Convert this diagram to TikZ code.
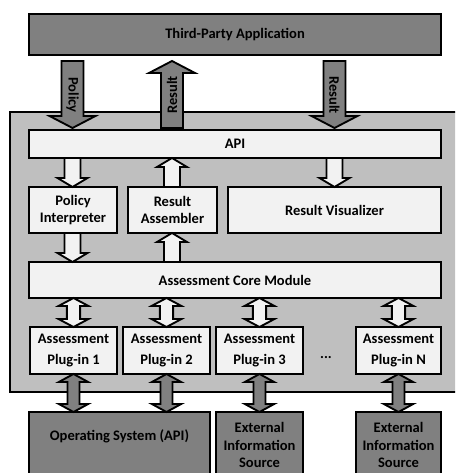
\documentclass[tikz,border=0pt]{standalone}
\usepackage{fontspec}
\setmainfont{Carlito}
\usetikzlibrary{calc}
\definecolor{dkgray}{HTML}{808080}
\definecolor{mdgray}{HTML}{BFBFBF}
\definecolor{ltgray}{HTML}{F2F2F2}
% single block arrow: style, column coordinate, from, to, shaft half, head half, head length
\newcommand\varrow[7]{%
  \draw[#1] let \p1=(#3), \p2=(#4), \p3=(#2), \n1={sign(\y1-\y2)} in
   (\x3-#5,\y1) -- (\x3-#5,{\y2+\n1*#7}) -- (\x3-#6,{\y2+\n1*#7}) -- (\x3,\y2)
   -- (\x3+#6,{\y2+\n1*#7}) -- (\x3+#5,{\y2+\n1*#7}) -- (\x3+#5,\y1) -- cycle;}
% double block arrow
\newcommand\darrow[7]{%
  \draw[#1] let \p1=(#3), \p2=(#4), \p3=(#2), \n1={sign(\y1-\y2)} in
   (\x3,\y1) -- (\x3+#6,{\y1-\n1*#7}) -- (\x3+#5,{\y1-\n1*#7}) -- (\x3+#5,{\y2+\n1*#7})
   -- (\x3+#6,{\y2+\n1*#7}) -- (\x3,\y2) -- (\x3-#6,{\y2+\n1*#7}) -- (\x3-#5,{\y2+\n1*#7})
   -- (\x3-#5,{\y1-\n1*#7}) -- (\x3-#6,{\y1-\n1*#7}) -- cycle;}
\tikzset{
  every node/.style={font=\bfseries\fontsize{10.9}{13}\selectfont, text=black},
  box/.style={draw, line width=1.4pt, inner sep=0pt, outer sep=0pt, align=center},
  span/.style n args={4}{at={({(#1+#3)/2},{(#2+#4)/2})},
     minimum width={(#3-#1)*0.75pt}, minimum height={(#4-#2)*0.75pt}},
  darkbox/.style={box, fill=dkgray},
  litebox/.style={box, fill=ltgray},
  outerbox/.style={box, fill=mdgray},
  darkarr/.style={draw, line width=1.4pt, fill=dkgray},
  litearr/.style={draw, line width=1.4pt, fill=ltgray},
}
\begin{document}
\begin{tikzpicture}[x=0.75pt, y=-0.75pt]
\useasboundingbox (0,0) rectangle (455,473);
\clip (0,0) rectangle (455,473);
% containers and boxes
\node[outerbox, span={10}{112}{462}{392}] (cont) {};
\node[darkbox, span={29}{14}{441}{55}] (tpa) {Third-Party Application};
\node[litebox, span={29}{130}{441}{158}] (api) {API};
\node[litebox, span={29}{187}{117}{233}] (pi) {Policy\\Interpreter};
\node[litebox, span={128}{187}{217}{233}] (asm) {Result\\Assembler};
\node[litebox, span={228}{187}{441}{233}] (viz) {Result Visualizer};
\node[litebox, span={29}{262}{441}{298}] (core) {Assessment Core Module};
\node[litebox, span={30}{327}{117}{374}] (p1) {Assessment\\[3pt]Plug-in 1};
\node[litebox, span={123}{327}{210}{374}] (p2) {Assessment\\[3pt]Plug-in 2};
\node[litebox, span={216}{327}{303}{374}] (p3) {Assessment\\[3pt]Plug-in 3};
\node[litebox, span={356}{327}{441}{374}] (pN) {Assessment\\[3pt]Plug-in N};
\node (dots) at (326,358) {...};
\node[darkbox, span={29}{412}{210}{490}] (os) {};
\node (ostext) at (119.5,436) {Operating System (API)};
\node[darkbox, span={216}{412}{303}{478}] (ext1) {External\\Information\\Source};
\node[darkbox, span={356}{412}{441}{478}] (extN) {External\\Information\\Source};
% columns
\coordinate (cA) at (72.5,0);
\coordinate (cB) at (172,0);
\coordinate (cC) at (334.5,0);
\coordinate (cP1) at (73.5,0);
\coordinate (cP2) at (166.5,0);
\coordinate (cP3) at (259.5,0);
\coordinate (cPN) at (398.5,0);
% top arrows
\varrow{darkarr}{cA}{$(tpa.south)+(0,6)$}{$(api.north)+(0,-2)$}{8.25pt}{17.25pt}{9pt}
\varrow{darkarr}{cB}{$(api.north)+(0,-2)$}{$(tpa.south)+(0,6)$}{8.25pt}{17.25pt}{9pt}
\varrow{darkarr}{cC}{$(tpa.south)+(0,6)$}{$(api.north)+(0,-2)$}{8.25pt}{17.25pt}{9pt}
\node[rotate=-90] (lpol) at (72.5,95) {Policy};
\node[rotate=90] (lres) at (172,95) {Result};
\node[rotate=-90] (lres2) at (334.5,95) {Result};
% inner arrows
\varrow{litearr}{cA}{api.south}{pi.north}{6pt}{11.25pt}{6.75pt}
\varrow{litearr}{cB}{asm.north}{api.south}{6pt}{11.25pt}{6.75pt}
\varrow{litearr}{cC}{api.south}{viz.north}{6pt}{11.25pt}{6.75pt}
\varrow{litearr}{cA}{pi.south}{core.north}{6pt}{11.25pt}{6.75pt}
\varrow{litearr}{cB}{core.north}{asm.south}{6pt}{11.25pt}{6.75pt}
% core <-> plug-ins
\darrow{litearr}{cP1}{core.south}{p1.north}{5pt}{11.25pt}{6pt}
\darrow{litearr}{cP2}{core.south}{p2.north}{5pt}{11.25pt}{6pt}
\darrow{litearr}{cP3}{core.south}{p3.north}{5pt}{11.25pt}{6pt}
\darrow{litearr}{cPN}{core.south}{pN.north}{5pt}{11.25pt}{6pt}
% plug-ins <-> sources
\darrow{darkarr}{cP1}{p1.south}{os.north}{4.5pt}{11pt}{6pt}
\darrow{darkarr}{cP2}{p2.south}{os.north}{4.5pt}{11pt}{6pt}
\darrow{darkarr}{cP3}{p3.south}{ext1.north}{4.5pt}{11pt}{6pt}
\darrow{darkarr}{cPN}{pN.south}{extN.north}{4.5pt}{11pt}{6pt}
\end{tikzpicture}
\end{document}
